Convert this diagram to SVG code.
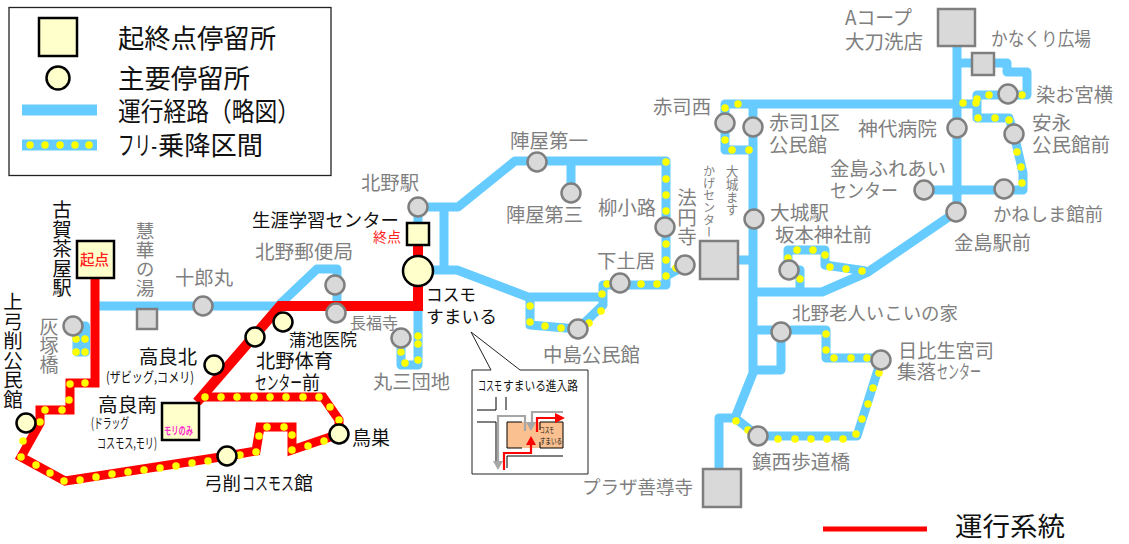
<svg xmlns="http://www.w3.org/2000/svg" width="1129" height="544" viewBox="0 0 1129 544">
<style>
text{font-family:"Noto Sans CJK JP","Noto Sans",sans-serif;fill:#111}
.g{fill:#7f7f7f}
.v{writing-mode:vertical-rl}
.blue{fill:none;stroke:#66ccff;stroke-width:9;stroke-linejoin:round}
.red{fill:none;stroke:#ff0000;stroke-width:9;stroke-linejoin:miter}
.dots{fill:none;stroke:#ffff00;stroke-width:7.5;stroke-linecap:round}
.sq{fill:#ffffcc;stroke:#000;stroke-width:2.5}
.gq{fill:#d9d9d9;stroke:#7f7f7f;stroke-width:2.5}
.c{fill:#ffffcc;stroke:#000;stroke-width:2.5}
.gc{fill:#d9d9d9;stroke:#7f7f7f;stroke-width:2.5}
.thin{fill:none;stroke:#000;stroke-width:1}
.grayline{fill:none;stroke:#a6a6a6;stroke-width:2.2}
.redline{fill:none;stroke:#ff0000;stroke-width:2.2}
</style>
<g id="legend">
<rect x="9" y="7.500" width="322" height="168" fill="#fff" stroke="#222" stroke-width="1.300"/>
<rect class="sq" x="39" y="18" width="38" height="38"/>
<circle class="c" cx="58" cy="78" r="11.500"/>
<path d="M22,110H97" fill="none" stroke="#66ccff" stroke-width="11"/>
<path d="M22,145H97" fill="none" stroke="#66ccff" stroke-width="11"/>
<path class="dots" d="M30,145h0M45,145h0M60,145h0M75,145h0M89,145h0"/>
<text x="118" y="48" font-size="26" textLength="158" lengthAdjust="spacingAndGlyphs">起終点停留所</text>
<text x="118" y="88" font-size="26" textLength="132" lengthAdjust="spacingAndGlyphs">主要停留所</text>
<text x="118" y="121" font-size="26" textLength="182" lengthAdjust="spacingAndGlyphs">運行経路&#xFF08;略図&#xFF09;</text>
<text y="155" font-size="26"><tspan x="118" textLength="39" lengthAdjust="spacingAndGlyphs">フリ-</tspan><tspan x="158" textLength="105" lengthAdjust="spacingAndGlyphs">乗降区間</tspan></text>
<path d="M823,529H927" fill="none" stroke="#ff0000" stroke-width="5"/>
<text x="955" y="536" font-size="26" textLength="110" lengthAdjust="spacingAndGlyphs">運行系統</text>
</g>
<g id="connectors">
<path class="blue" d="M95,306H278L317,269H337V306"/>
<path class="blue" stroke-width="9" d="M73,326H85.500V352H77V330"/>
<path class="blue" d="M418,207V232M418,305V365H401V338"/>
<path class="blue" d="M418,207H458L515,161H666V285H603V305L578,329L530,325V297"/>
<path class="blue" d="M571,161V193M444,207V270M418,270H457L528,297H603"/>
<path class="blue" d="M666,276L690,263M738,260H753"/>
<path class="blue" d="M725,125V104H977M725,125V150H753M753,104V373L735,418H719V468M735,418L758,436H857L881,360"/>
<path class="blue" d="M957,47V212M957,63H1007V72H1027V95H977V118H1009L1014,134L1023,173V190H924"/>
<path class="blue" d="M956,212L868,272L822,292H753M866,271L825,265V250H788V270H800V293"/>
<path class="blue" d="M753,330H826V358H881M781,332V370H753"/>
<path class="red" d="M95,279V383H70V410H40V423L21,457L65,481L227,456L256,451L260,427H292V450L339,434V420L323,397H200"/>
<path class="red" style="stroke-width:10" d="M197,402L280,306H418V246"/>
<path class="dots" d="M85,383h0M70,384h0M69,400h0M62,410h0M45,410h0M40,422h0M23,441h0M21,457h0M36,465h0M50,473h0M64,481h0M80,480h0M96,477h0M112,474h0M128,472h0M144,470h0M160,468h0M176,466h0M192,463h0M208,461h0M240,455h0M256,452h0M259,436h0M267,427h0M284,427h0M292,435h0M292,450h0M308,446h0M324,441h0M339,420h0M330,407h0M319,397h0M303,397h0M286,397h0M270,397h0M254,397h0M237,397h0M221,397h0M205,397h0"/>
<path class="dots" d="M76,339h0M85,339h0M76,352h0M85,352h0"/>
<path class="dots" d="M418,336h0M418,344h0M418,360h0M405,363h0M401,352h0"/>
<path class="dots" d="M530,306h0M530,322h0M545,326h0M561,328h0M589,323h0M601,311h0M602,294h0M607,284h0M625,284h0M641,284h0M657,284h0M666,276h0M666,260h0M666,244h0M666,211h0M666,195h0M666,179h0M666,162h0M676,268h0"/>
<path class="dots" d="M738,104h0M725,108h0M725,140h0M732,150h0M749,150h0M963,103h0M977,99h0M976,103h0M989,95h0M1022,95h0M978,118h0M995,118h0M1009,120h0M1017,152h0M1021,167h0M1022,183h0"/>
<path class="dots" d="M788,258h0M797,250h0M813,250h0M825,255h0M830,267h0M846,269h0M862,271h0M800,279h0"/>
<path class="dots" d="M736,421h0M748,430h0M778,439h0M795,439h0M811,439h0M827,439h0M843,439h0M856,434h0M862,419h0M868,404h0M873,388h0M879,373h0M826,334h0M826,350h0M834,358h0M851,358h0M867,358h0"/>
</g>
<g id="n-koga"><rect class="sq" x="77" y="241" width="37" height="37"/><text x="80" y="265" font-size="14.500" style="fill:#ff2020;font-weight:500" textLength="29" lengthAdjust="spacingAndGlyphs">起点</text><text class="v" x="62" y="200" font-size="19.500">古賀茶屋駅</text></g>
<g id="n-kamiyuge"><circle class="c" cx="26" cy="423" r="9.500"/><text class="v" x="13" y="292" font-size="19.500">上弓削公民館</text></g>
<g id="n-haizuka"><circle class="gc" cx="73" cy="326" r="9.500"/><text class="v g" x="49" y="317" font-size="19">灰塚橋</text></g>
<g id="n-keika"><rect class="gq" x="137" y="309" width="20" height="20"/><text class="v g" x="145" y="222" font-size="18.700">慧華の湯</text></g>
<g id="n-juromaru"><circle class="gc" cx="203" cy="306" r="9.500"/><text class="g" x="175" y="285" font-size="19" textLength="58" lengthAdjust="spacingAndGlyphs">十郎丸</text></g>
<g id="n-yubin"><circle class="gc" cx="335" cy="285" r="9.500"/><text class="g" x="255" y="259" font-size="19.500" textLength="98" lengthAdjust="spacingAndGlyphs">北野郵便局</text></g>
<g id="n-chofukuji"><circle class="gc" cx="336" cy="313" r="9.500"/><text class="g" x="350" y="329" font-size="16" textLength="48" lengthAdjust="spacingAndGlyphs">長福寺</text></g>
<g id="n-kamachi"><circle class="c" cx="283" cy="322" r="9.500"/><text x="289" y="346" font-size="17" textLength="68" lengthAdjust="spacingAndGlyphs">蒲池医院</text></g>
<g id="n-taiiku"><circle class="c" cx="255" cy="337" r="9.500"/><text x="256" y="368" font-size="19.500" textLength="77" lengthAdjust="spacingAndGlyphs">北野体育</text><text y="390" font-size="19"><tspan x="255" textLength="47" lengthAdjust="spacingAndGlyphs">センター</tspan><tspan x="302" textLength="18" lengthAdjust="spacingAndGlyphs">前</tspan></text></g>
<g id="n-takarakita"><circle class="c" cx="214" cy="365" r="9.500"/><text x="139" y="364" font-size="19.500" textLength="58" lengthAdjust="spacingAndGlyphs">高良北</text><text x="106" y="382" font-size="14" textLength="88" lengthAdjust="spacingAndGlyphs">(ザビッグ,コメリ)</text></g>
<g id="n-takaraminami"><rect class="sq" x="162" y="403" width="37" height="37"/><text x="164" y="435" font-size="11" style="fill:#ff33cc;font-weight:700" textLength="29" lengthAdjust="spacingAndGlyphs">モリのみ</text><text x="98" y="412" font-size="19.500" textLength="59" lengthAdjust="spacingAndGlyphs">高良南</text><text x="91" y="428" font-size="14" textLength="38" lengthAdjust="spacingAndGlyphs">(ドラッグ</text><text x="97" y="448" font-size="14" textLength="60" lengthAdjust="spacingAndGlyphs">コスモス,モリ)</text></g>
<g id="n-yugecosmos"><circle class="c" cx="227" cy="456" r="9.500"/><text y="490" font-size="18.500"><tspan x="204" textLength="37" lengthAdjust="spacingAndGlyphs">弓削</tspan><tspan x="242" textLength="52" lengthAdjust="spacingAndGlyphs">コスモス</tspan><tspan x="294" textLength="19" lengthAdjust="spacingAndGlyphs">館</tspan></text></g>
<g id="n-torisu"><circle class="c" cx="339" cy="434" r="9.500"/><text x="352" y="445" font-size="19" textLength="38" lengthAdjust="spacingAndGlyphs">鳥巣</text></g>
<g id="n-shogai"><rect class="sq" x="407" y="223" width="22" height="22"/><text x="252" y="227" font-size="18.500" textLength="147" lengthAdjust="spacingAndGlyphs">生涯学習センター</text><text x="373" y="242" font-size="14" style="fill:#ff2020" textLength="28" lengthAdjust="spacingAndGlyphs">終点</text></g>
<g id="n-cosmo"><circle class="c" cx="418" cy="271" r="15"/><text x="426" y="301" font-size="17" textLength="50" lengthAdjust="spacingAndGlyphs">コスモ</text><text x="426" y="323" font-size="17.500" textLength="71" lengthAdjust="spacingAndGlyphs">すまいる</text></g>
<g id="n-kitanoeki"><circle class="gc" cx="418" cy="207" r="9.500"/><text class="g" x="361" y="190" font-size="19" textLength="58" lengthAdjust="spacingAndGlyphs">北野駅</text></g>
<g id="n-marusan"><circle class="gc" cx="401" cy="338" r="9.500"/><text class="g" x="373" y="389" font-size="19" textLength="77" lengthAdjust="spacingAndGlyphs">丸三団地</text></g>
<g id="n-jinya1"><circle class="gc" cx="537" cy="162" r="9.500"/><text class="g" x="510" y="148" font-size="19.500" textLength="78" lengthAdjust="spacingAndGlyphs">陣屋第一</text></g>
<g id="n-jinya3"><circle class="gc" cx="571" cy="193" r="9.500"/><text class="g" x="506" y="222" font-size="19.500" textLength="77" lengthAdjust="spacingAndGlyphs">陣屋第三</text></g>
<g id="n-yanagi"><circle class="gc" cx="665" cy="227" r="9.500"/><text class="g" x="598" y="215" font-size="19" textLength="58" lengthAdjust="spacingAndGlyphs">柳小路</text></g>
<g id="n-shimodoi"><circle class="gc" cx="620" cy="283" r="9.500"/><text class="g" x="597" y="268" font-size="19" textLength="58" lengthAdjust="spacingAndGlyphs">下土居</text></g>
<g id="n-nakashima"><circle class="gc" cx="578" cy="329" r="9.500"/><text class="g" x="543" y="362" font-size="19.500" textLength="97" lengthAdjust="spacingAndGlyphs">中島公民館</text></g>
<g id="n-hoenji"><circle class="gc" cx="685" cy="265" r="9.500"/><text class="v g" x="687" y="188" font-size="19.500">法円寺</text></g>
<g id="n-ojo"><rect class="gq" x="700" y="241" width="38" height="38"/><text class="v g" x="732" y="165" font-size="12.700">大城ます</text><text class="v g" x="709" y="165" font-size="12.200">かげセンター</text></g>
<g id="n-akashinishi"><circle class="gc" cx="725" cy="123" r="9.500"/><text class="g" x="653" y="114" font-size="19" textLength="58" lengthAdjust="spacingAndGlyphs">赤司西</text></g>
<g id="n-akashi1"><circle class="gc" cx="753" cy="127" r="9.500"/><text class="g" x="769" y="130" font-size="19.500" textLength="71" lengthAdjust="spacingAndGlyphs">赤司1区</text><text class="g" x="769" y="152" font-size="19.500" textLength="58" lengthAdjust="spacingAndGlyphs">公民館</text></g>
<g id="n-ojoeki"><circle class="gc" cx="754" cy="219" r="9.500"/><text class="g" x="770" y="220" font-size="19.500" textLength="59" lengthAdjust="spacingAndGlyphs">大城駅</text></g>
<g id="n-sakamoto"><circle class="gc" cx="789" cy="270" r="9.500"/><text class="g" x="775" y="242" font-size="19.500" textLength="97" lengthAdjust="spacingAndGlyphs">坂本神社前</text></g>
<g id="n-kitanorojin"><circle class="gc" cx="781" cy="332" r="9.500"/><text class="g" x="792" y="320" font-size="18.500" textLength="166" lengthAdjust="spacingAndGlyphs">北野老人いこいの家</text></g>
<g id="n-hibiki"><circle class="gc" cx="881" cy="360" r="9.500"/><text class="g" x="898" y="358" font-size="19.500" textLength="96" lengthAdjust="spacingAndGlyphs">日比生宮司</text><text class="g" y="379" font-size="19"><tspan x="897" textLength="39" lengthAdjust="spacingAndGlyphs">集落</tspan><tspan x="937" textLength="44" lengthAdjust="spacingAndGlyphs">センター</tspan></text></g>
<g id="n-chinzei"><circle class="gc" cx="758" cy="436" r="9.500"/><text class="g" x="752" y="469" font-size="19.500" textLength="98" lengthAdjust="spacingAndGlyphs">鎮西歩道橋</text></g>
<g id="n-zendoji"><rect class="gq" x="703" y="469" width="38" height="38"/><text class="g" x="582" y="494" font-size="18.500" textLength="111" lengthAdjust="spacingAndGlyphs">プラザ善導寺</text></g>
<g id="n-acoop"><rect class="gq" x="938" y="9" width="37" height="37"/><text class="g" x="845" y="25" font-size="19.500" textLength="67" lengthAdjust="spacingAndGlyphs">Aコープ</text><text class="g" x="845" y="49" font-size="19.500" textLength="78" lengthAdjust="spacingAndGlyphs">大刀洗店</text></g>
<g id="n-kanakuri"><rect class="gq" x="972" y="53" width="22" height="22"/><text class="g" x="991" y="46" font-size="19" textLength="100" lengthAdjust="spacingAndGlyphs">かなくり広場</text></g>
<g id="n-someo"><circle class="gc" cx="1008" cy="94" r="9.500"/><text class="g" x="1036" y="102" font-size="19.500" textLength="77" lengthAdjust="spacingAndGlyphs">染お宮横</text></g>
<g id="n-yasunaga"><circle class="gc" cx="1014" cy="134" r="9.500"/><text class="g" x="1032" y="130" font-size="19.500" textLength="39" lengthAdjust="spacingAndGlyphs">安永</text><text class="g" x="1032" y="152" font-size="19.500" textLength="78" lengthAdjust="spacingAndGlyphs">公民館前</text></g>
<g id="n-jindai"><circle class="gc" cx="957" cy="128" r="9.500"/><text class="g" x="858" y="136" font-size="19.500" textLength="79" lengthAdjust="spacingAndGlyphs">神代病院</text></g>
<g id="n-fureai"><circle class="gc" cx="924" cy="190" r="9.500"/><text class="g" x="830" y="176" font-size="19.500" textLength="116" lengthAdjust="spacingAndGlyphs">金島ふれあい</text><text class="g" x="830" y="198" font-size="19" textLength="68" lengthAdjust="spacingAndGlyphs">センター</text></g>
<g id="n-kawashima"><circle class="gc" cx="1004" cy="189" r="9.500"/><text class="g" x="993" y="221" font-size="18.500" textLength="110" lengthAdjust="spacingAndGlyphs">かねしま館前</text></g>
<g id="n-kanashima"><circle class="gc" cx="956" cy="212" r="9.500"/><text class="g" x="954" y="250" font-size="19.500" textLength="77" lengthAdjust="spacingAndGlyphs">金島駅前</text></g>
<g id="inset">
<path d="M472,370H491L471,332L520,370H588V474H472Z" fill="#fff" stroke="#222" stroke-width="1"/>
<text y="390" font-size="13"><tspan x="478" textLength="24" lengthAdjust="spacingAndGlyphs">コスモ</tspan><tspan x="503" textLength="75" lengthAdjust="spacingAndGlyphs">すまいる進入路</tspan></text>
<rect x="507" y="422" width="56" height="26" fill="#fac090"/>
<path class="thin" d="M477,410H496V397M506,397V410M477,422H496V463M507,468V456H563"/>
<path class="thin" d="M522,422H507V448H522M540,430V422H563V448H540V442"/>
<path class="grayline" d="M525,431V416H498V462M532,425V412H563"/>
<path d="M493,461H503L498,470ZM526,422H536L531,431Z" fill="#a6a6a6"/>
<path class="redline" d="M504,470V453H531V444M537,432V418H558"/>
<path d="M526,445H536L531,436ZM555,413V423L565,418Z" fill="#ff0000"/>
<text x="540" y="433" font-size="7.500" textLength="14" lengthAdjust="spacingAndGlyphs">コスモ</text>
<text x="540" y="444" font-size="7.500" textLength="22" lengthAdjust="spacingAndGlyphs">すまいる</text>
</g>
</svg>
